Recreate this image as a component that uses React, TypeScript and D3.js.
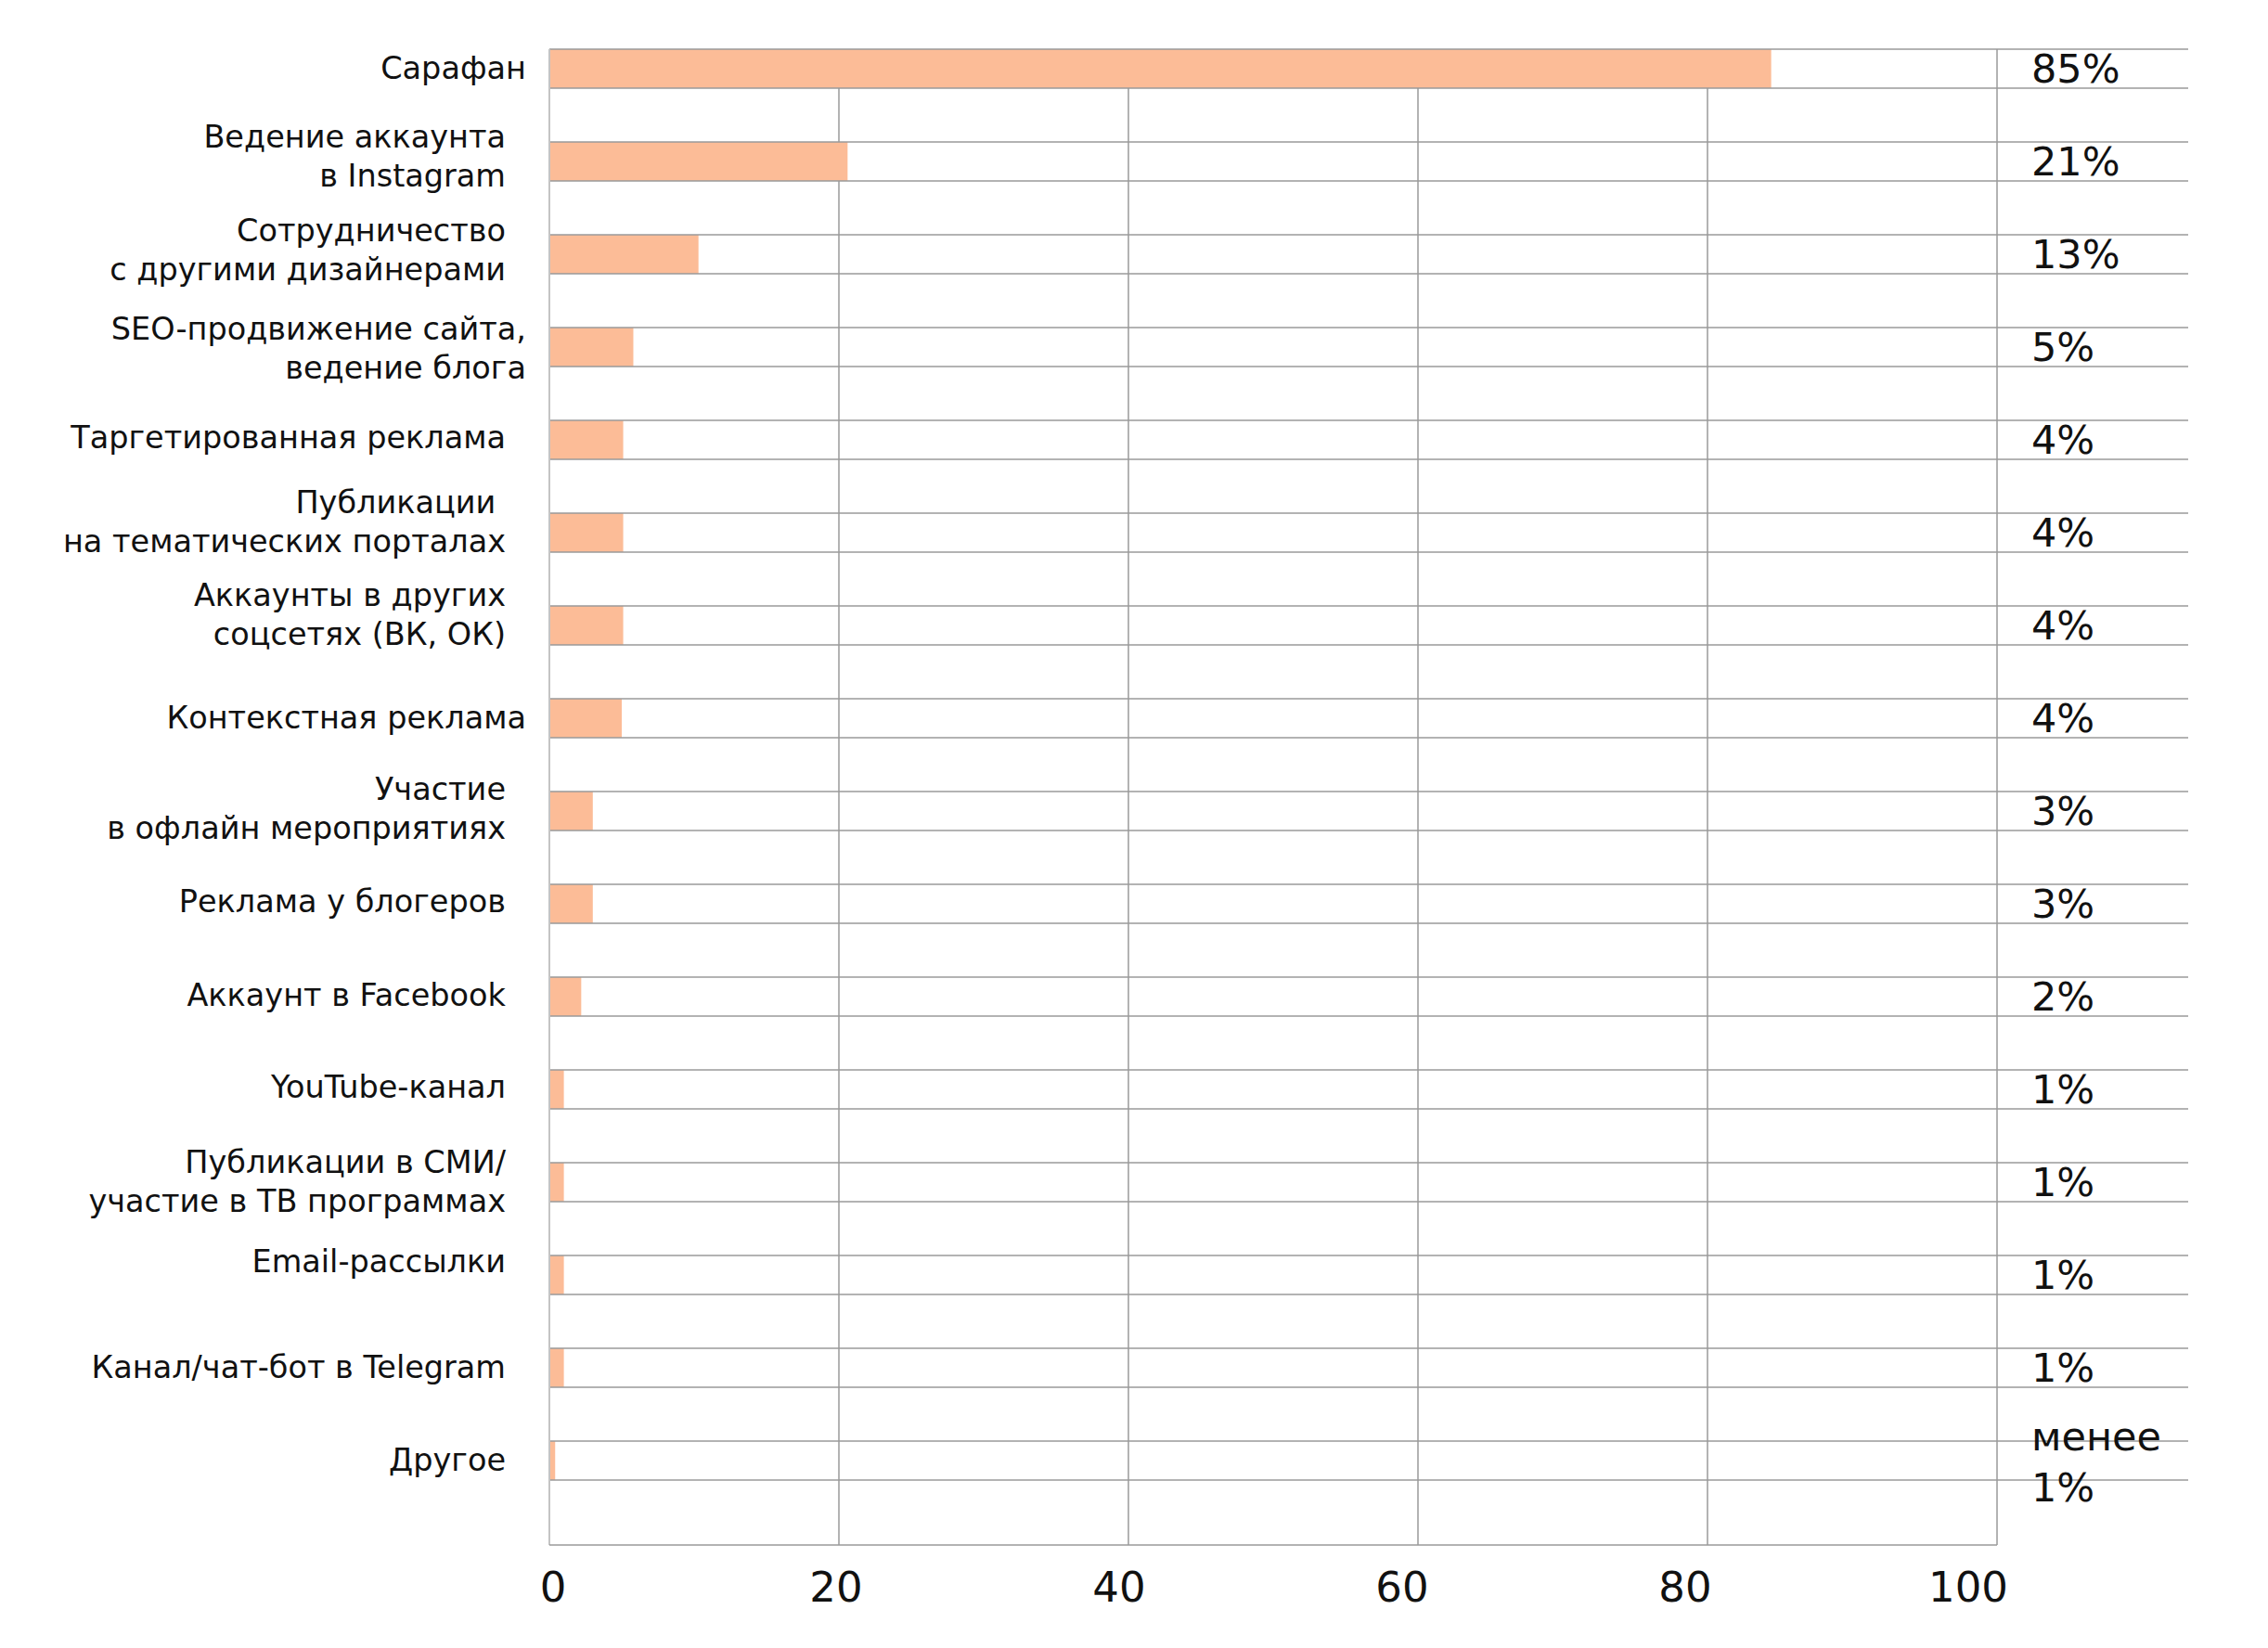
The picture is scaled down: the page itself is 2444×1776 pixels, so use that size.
import React from "react";
import * as d3 from "d3";

// ---- data ----
const categories: string[][] = [
  ["Сарафан"],
  ["Ведение аккаунта", "в Instagram"],
  ["Сотрудничество", "с другими дизайнерами"],
  ["SEO-продвижение сайта,", "ведение блога"],
  ["Таргетированная реклама"],
  ["Публикации ", "на тематических порталах"],
  ["Аккаунты в других", "соцсетях (ВК, ОК)"],
  ["Контекстная реклама"],
  ["Участие", "в офлайн мероприятиях"],
  ["Реклама у блогеров"],
  ["Аккаунт в Facebook"],
  ["YouTube-канал"],
  ["Публикации в СМИ/", "участие в ТВ программах"],
  ["Email-рассылки"],
  ["Канал/чат-бот в Telegram"],
  ["Другое"],
];
const barValues: number[] = [84.4, 20.6, 10.3, 5.8, 5.1, 5.1, 5.1, 5.0, 3.0, 3.0, 2.2, 1.0, 1.0, 1.0, 1.0, 0.4];
const valueLabels: string[][] = [
  ["85%"], ["21%"], ["13%"], ["5%"], ["4%"], ["4%"], ["4%"], ["4%"],
  ["3%"], ["3%"], ["2%"], ["1%"], ["1%"], ["1%"], ["1%"], ["менее", "1%"],
];
const xTicks: number[] = [0, 20, 40, 60, 80, 100];

// ---- layout (not data) ----
const W = 2444;
const H = 1776;
const plotLeft = 592;
const plotRight = 2152;
const plotTop = 53;
const plotBottom = 1665;
const gridRight = 2358;
const labelRightDefault = 545;
const labelRightWide = 567;
const wideLabelRows = new Set([0, 3, 7]);
const labelShift: number[] = [-1, -6, -5, 1, -3, -12, -12, -1, -3, -3, -2, -3, -1, -15, -1, -1];
const FONT = "'DejaVu Sans', 'Noto Sans', sans-serif";
const catFs = 33.5;
const catLineGap = 42;
const valFs = 43;
const tickFs = 45;
const barColor = "#FCBC97";
const lineColor = "#9a9a9a";

export default function App() {
  const ids = categories.map((_, i) => String(i));
  const x = d3.scaleLinear().domain([0, 100]).range([plotLeft, plotRight]);
  const xLabel = d3.scaleLinear().domain([0, 100]).range([596, 2121]);
  const y = d3
    .scaleBand<string>()
    .domain(ids)
    .range([plotTop, plotTop + 100 * ids.length])
    .paddingInner(0.58)
    .paddingOuter(0.29)
    .align(0);
  const bw = y.bandwidth();

  return (
    <div style={{ position: "absolute", left: 0, top: 0, width: W, height: H, background: "#fff" }}>
      <svg width={W} height={H} style={{ display: "block" }} fontFamily={FONT}>
        <rect x={0} y={0} width={W} height={H} fill="#fff" />
        {/* vertical gridlines */}
        {xTicks.slice(1).map((t) => (
          <line
            key={"g" + t}
            x1={x(t)}
            x2={x(t)}
            y1={plotTop}
            y2={plotBottom}
            stroke={lineColor}
            strokeWidth={1.5}
          />
        ))}
        {/* bars */}
        {barValues.map((v, i) => (
          <rect
            key={"b" + i}
            x={x(0)}
            y={y(String(i))!}
            width={x(v) - x(0)}
            height={bw}
            fill={barColor}
          />
        ))}
        {/* horizontal lines at bar edges */}
        {ids.map((id) => (
          <g key={"h" + id}>
            <line x1={x(0)} x2={gridRight} y1={y(id)!} y2={y(id)!} stroke={lineColor} strokeWidth={1.5} />
            <line x1={x(0)} x2={gridRight} y1={y(id)! + bw} y2={y(id)! + bw} stroke={lineColor} strokeWidth={1.5} />
          </g>
        ))}
        {/* zero axis and bottom axis */}
        <line x1={x(0)} x2={x(0)} y1={plotTop} y2={plotBottom} stroke="#c4c4c4" strokeWidth={2} />
        <line x1={x(0)} x2={x(100)} y1={plotBottom} y2={plotBottom} stroke={lineColor} strokeWidth={1.5} />
        {/* category labels */}
        {categories.map((lines, i) => {
          const c = y(String(i))! + bw / 2 + labelShift[i];
          const right = wideLabelRows.has(i) ? labelRightWide : labelRightDefault;
          const n = lines.length;
          return (
            <text key={"c" + i} textAnchor="end" fontSize={catFs} fill="#111" style={{ whiteSpace: "pre" }}>
              {lines.map((ln, k) => (
                <tspan
                  key={k}
                  x={right}
                  y={c + (k - (n - 1) / 2) * catLineGap + catFs * 0.36}
                >
                  {ln}
                </tspan>
              ))}
            </text>
          );
        })}
        {/* value labels */}
        {valueLabels.map((lines, i) => {
          const c = y(String(i))! + bw / 2;
          if (lines.length === 1) {
            return (
              <text key={"v" + i} x={2189} y={c + 15} fontSize={valFs} fill="#111">
                {lines[0]}
              </text>
            );
          }
          return (
            <text key={"v" + i} fontSize={valFs} fill="#111">
              <tspan x={2189} y={c - 11}>{lines[0]}</tspan>
              <tspan x={2189} y={c + 44}>{lines[1]}</tspan>
            </text>
          );
        })}
        {/* x tick labels */}
        {xTicks.map((t) => (
          <text key={"t" + t} x={xLabel(t)} y={1726} textAnchor="middle" fontSize={tickFs} fill="#111">
            {t}
          </text>
        ))}
      </svg>
    </div>
  );
}
